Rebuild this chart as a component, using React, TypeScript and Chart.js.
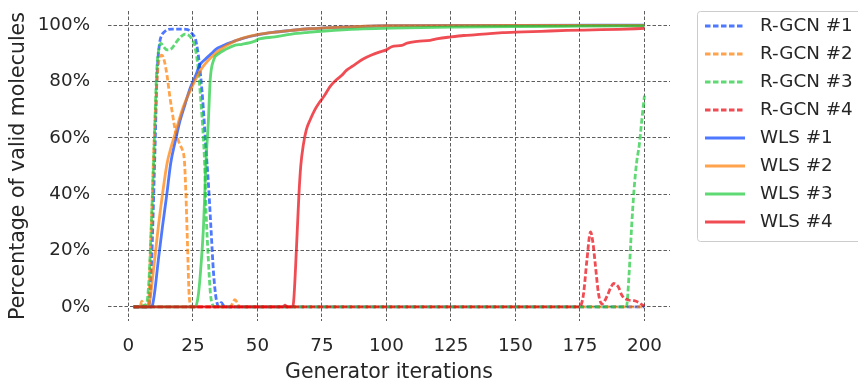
import React, { useEffect, useRef } from 'react';
import { Chart, registerables } from 'chart.js';

Chart.register(...registerables);

const W = 858;
const H = 379;

// Tick values
const xTicks = [0, 25, 50, 75, 100, 125, 150, 175, 200];
const yTicks = [0, 20, 40, 60, 80, 100];

// Series labels
const seriesLabels = ['R-GCN #1', 'R-GCN #2', 'R-GCN #3', 'R-GCN #4', 'WLS #1', 'WLS #2', 'WLS #3', 'WLS #4'];

// R-GCN #1
const rgcn1X = [2, 7.5, 8, 9, 10, 10.5, 11, 12, 13, 14, 15, 17, 20, 23, 24, 25, 26, 27, 28, 29, 30, 31, 32, 33, 34, 35, 36, 37, 38, 200];
const rgcn1Y = [0, 0, 0.6, 16, 46, 62, 80, 93, 96.5, 97.6, 98.3, 98.6, 98.6, 98.4, 97.6, 96.6, 95, 90, 82, 71, 57, 44, 28, 12, 3, 0.3, 1.5, 0.3, 0, 0];

// R-GCN #2
const rgcn2X = [2, 4.5, 5.2, 6, 7.2, 8, 8.4, 9.1, 9.7, 10.3, 11, 11.6, 12.3, 13, 14, 15, 16, 17, 18, 19, 20, 21, 21.7, 22.3, 22.9, 23.5, 24, 24.5, 39.5, 40.5, 41.3, 42.2, 43, 200];
const rgcn2Y = [0, 0, 2, 0, 0, 4, 16, 34, 52, 66, 79, 86, 88.8, 89.3, 87, 82, 75, 69, 63.5, 60, 57.5, 55.5, 52, 40, 22.5, 5, 0.8, 0, 0, 1.5, 2.6, 1.5, 0, 0];

// R-GCN #3
const rgcn3X = [2, 7, 8, 9, 9.8, 11, 12, 12.6, 13.5, 15, 16.5, 17.5, 19, 20.5, 22, 23.5, 24.5, 25.8, 27, 28, 29, 29.5, 30.1, 31, 31.8, 32.6, 33.5, 193, 194, 195, 196, 197, 198, 199, 200];
const rgcn3Y = [0, 1, 10, 32, 52, 84, 92.5, 93.5, 92.5, 91.2, 91.5, 92.5, 94.5, 96, 96.8, 96.3, 95.2, 92.3, 85, 74, 61, 52, 34, 16.6, 4.7, 0.8, 0, 0, 11, 28, 42, 51.5, 57.5, 66.5, 75];

// R-GCN #4
const rgcn4X = [2, 174.5, 175.5, 176.4, 177.7, 179.1, 180, 180.9, 182.2, 183.5, 185.4, 187, 188, 189.9, 191.2, 193.2, 196, 198, 199, 200];
const rgcn4Y = [0, 0, 0.8, 4.7, 16.6, 26.6, 23, 15.5, 4.7, 1, 3.6, 7, 8.3, 7.1, 4.2, 2.6, 2.2, 1.5, 0.8, 0.3];

// WLS #1
const wls1X = [2, 9, 10, 11.6, 13.2, 14.9, 16.4, 18.1, 20, 22, 23.9, 25.9, 27.8, 29.7, 32.3, 34, 36.2, 38, 41.4, 44, 50.4, 56, 63, 70, 76, 89, 100, 125, 150, 200];
const wls1Y = [0, 0, 4, 16.6, 28.4, 40, 51, 58.5, 66, 72, 77.5, 81.7, 86, 87.8, 90, 91.5, 92.5, 93.3, 94.4, 95.2, 96.6, 97.4, 98.1, 98.7, 99, 99.5, 99.8, 99.9, 99.9, 100];

// WLS #2
const wls2X = [2, 7.5, 8, 9.7, 11.6, 13.6, 15, 16.5, 18.1, 21.3, 24.6, 28.4, 32.3, 36.2, 41.4, 44, 50, 56, 63, 70, 76, 89, 100, 150, 200];
const wls2Y = [0, 0, 0.6, 13, 28.4, 42.6, 51, 56.5, 61.5, 71, 78, 84.6, 88.8, 91.7, 94.4, 95.3, 96.6, 97.4, 98.1, 98.7, 99, 99.5, 99.8, 99.9, 99.9];

// WLS #3
const wls3X = [2, 25.9, 27, 27.8, 29.1, 29.7, 30.1, 31, 31.7, 33, 35, 37.5, 41.4, 44, 49, 50.4, 56.8, 63.3, 69.7, 76.2, 89.1, 102, 125, 150, 175, 200];
const wls3Y = [0, 0, 3.5, 10.7, 28.4, 42.6, 52, 66, 80.5, 87.5, 89.8, 91.3, 92.9, 93.2, 94.3, 95, 95.8, 96.8, 97.4, 97.9, 98.6, 98.9, 99.3, 99.5, 99.6, 99.7];

// WLS #4
const wls4X = [2, 60, 60.7, 61.5, 63.5, 64, 65.2, 66.1, 66.8, 67.8, 69, 70.5, 72, 74, 76, 78, 80.5, 82.5, 84.6, 87, 89, 91, 94, 97.5, 100, 102, 106, 108, 112, 117, 120, 125, 130, 135, 140, 145, 150, 160, 170, 180, 190, 200];
const wls4Y = [0, 0, 0.6, 0, 0, 1.5, 22, 40, 50, 57.5, 63, 66.5, 69.5, 72.5, 75, 78, 80.5, 82, 84, 85.5, 86.8, 88, 89.3, 90.5, 91.2, 92.3, 92.8, 93.6, 94.2, 94.6, 95.2, 95.8, 96.3, 96.6, 97, 97.3, 97.5, 97.8, 98.1, 98.3, 98.5, 98.8];

const seriesX = [rgcn1X, rgcn2X, rgcn3X, rgcn4X, wls1X, wls2X, wls3X, wls4X];
const seriesY = [rgcn1Y, rgcn2Y, rgcn3Y, rgcn4Y, wls1Y, wls2Y, wls3Y, wls4Y];
const seriesDashed = [true, true, true, true, false, false, false, false];

const palette = ['rgba(2,62,255,0.7)', 'rgba(255,124,0,0.7)', 'rgba(26,201,56,0.7)', 'rgba(232,0,11,0.7)'];
const seriesColors = [palette[0], palette[1], palette[2], palette[3], palette[0], palette[1], palette[2], palette[3]];

const FONT = '"DejaVu Sans", sans-serif';
const TEXT = '#262626';
const DASH = [5.5, 2.5];
const LW = 2.8;

const legendPlugin = {
  id: 'boxLegend',
  afterDraw(chart: any) {
    const ctx = chart.ctx as CanvasRenderingContext2D;
    ctx.save();
    ctx.setLineDash([]);
    ctx.beginPath();
    (ctx as any).roundRect(697.5, 11.5, 200, 230, 3);
    ctx.fillStyle = 'rgba(255,255,255,0.8)';
    ctx.fill();
    ctx.strokeStyle = '#cccccc';
    ctx.lineWidth = 1;
    ctx.stroke();
    seriesLabels.forEach((lab, i) => {
      const y = 26 + 28 * i;
      ctx.beginPath();
      ctx.setLineDash(seriesDashed[i] ? DASH : []);
      ctx.strokeStyle = seriesColors[i];
      ctx.lineWidth = LW;
      ctx.moveTo(705, y);
      ctx.lineTo(745, y);
      ctx.stroke();
      ctx.setLineDash([]);
      ctx.fillStyle = TEXT;
      ctx.font = `18.3px ${FONT}`;
      ctx.textAlign = 'left';
      ctx.textBaseline = 'middle';
      ctx.fillText(lab, 760, y + 0.7);
    });
    ctx.restore();
  },
};

export default function App() {
  const ref = useRef<HTMLCanvasElement>(null);
  useEffect(() => {
    const datasets = seriesLabels.map((label, i) => ({
      label,
      data: seriesX[i].map((x, j) => ({ x, y: seriesY[i][j] })),
      borderColor: seriesColors[i],
      backgroundColor: seriesColors[i],
      borderWidth: LW,
      borderDash: seriesDashed[i] ? DASH : [],
      pointRadius: 0,
      fill: false,
      cubicInterpolationMode: 'monotone' as const,
      borderJoinStyle: 'round' as const,
      order: 8 - i,
    }));
    const chart = new Chart(ref.current!, {
      type: 'line',
      data: { datasets },
      options: {
        responsive: false,
        devicePixelRatio: 1,
        animation: false,
        events: [],
        layout: { padding: { top: 11, right: 188, left: 0, bottom: 0 } },
        plugins: { legend: { display: false }, tooltip: { enabled: false } },
        scales: {
          x: {
            type: 'linear',
            min: -7.9,
            max: 209.9,
            afterBuildTicks: (s: any) => { s.ticks = xTicks.map((value) => ({ value })); },
            afterFit: (s: any) => { s.height = 58; s.paddingLeft = 0; s.paddingRight = 0; },
            grid: { color: '#5e5e5e', lineWidth: 1, drawTicks: false },
            border: { display: false, dash: [3.5, 2] },
            ticks: { font: { family: FONT, size: 18.3 }, color: TEXT, padding: 14.5, maxRotation: 0, autoSkip: false },
            title: { display: true, text: 'Generator iterations', font: { family: FONT, size: 20.5, lineHeight: 0.6 }, color: TEXT, padding: 0 },
          },
          y: {
            type: 'linear',
            min: -5,
            max: 105,
            afterBuildTicks: (s: any) => { s.ticks = yTicks.map((value) => ({ value })); },
            afterFit: (s: any) => { s.width = 108; s.paddingTop = 0; s.paddingBottom = 0; },
            grid: { color: '#5e5e5e', lineWidth: 1, drawTicks: false },
            border: { display: false, dash: [3.5, 2] },
            ticks: { font: { family: FONT, size: 18.3 }, color: TEXT, padding: 18, callback: (v: any) => `${v}%` },
            title: { display: true, text: 'Percentage of valid molecules', font: { family: FONT, size: 20.5, lineHeight: 1.2 }, color: TEXT, padding: { top: 6, bottom: 0 } },
          },
        },
      },
      plugins: [legendPlugin],
    });
    return () => chart.destroy();
  }, []);
  return (
    <div style={{ position: 'fixed', left: 0, top: 0, width: W, height: H, background: '#ffffff' }}>
      <canvas ref={ref} width={W} height={H} style={{ display: 'block', width: W, height: H }} />
    </div>
  );
}
